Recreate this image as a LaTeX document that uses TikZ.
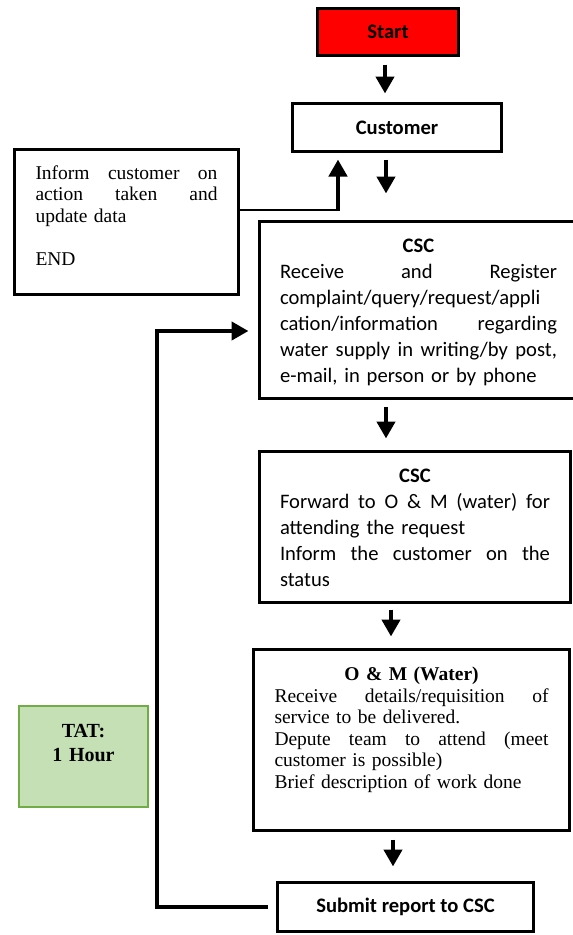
\documentclass[tikz,border=0pt]{standalone}
\usepackage{fontspec}
\setmainfont{Liberation Serif}
\newfontfamily\calfont{Carlito}
\usetikzlibrary{arrows.meta}
\definecolor{startred}{HTML}{FF0000}
\definecolor{tatfill}{HTML}{C5E0B4}
\definecolor{tatline}{HTML}{70AD47}
\newcommand{\ctr}[1]{\hfill#1\hfill\null\\}
\newcommand{\botpad}[1]{\par\vspace*{#1}\hrule height 0pt}
\begin{document}
\begin{tikzpicture}[x=1pt,y=-1pt,
  box/.style={draw, line width=3pt, inner sep=0pt, align=left},
  cal/.style={font=\calfont\fontsize{20.6}{26}\selectfont},
  ser/.style={font=\fontsize{19.5}{21.5}\selectfont},
  arr/.style={line width=4.5pt, -{Triangle[width=18pt,length=17pt]}},
  link/.style={line width=4.5pt}]
\useasboundingbox (0,0) rectangle (573,935);
\fill[white] (0,0) rectangle (573,935);

% boxes
\node[box, cal, fill=startred, minimum width=141pt, minimum height=47pt, align=center]
  (start) at (388,32) {\bfseries Start};
\node[box, cal, minimum width=209pt, minimum height=48pt, align=center]
  (customer) at (397,127.5) {\bfseries Customer};
\node[box, ser, text width=182pt, minimum width=224pt, minimum height=145pt]
  (inform) at (126.5,222) {Inform\hfill customer\hfill on\\ action\hfill taken\hfill and\\ update data\\ \strut\\ END\botpad{13pt}};
\node[box, cal, text width=277pt, minimum width=318pt, minimum height=177pt]
  (csc1) at (418.5,310) {\ctr{\textbf{CSC}}Receive\hfill and\hfill Register\\ complaint/query/request/appli\\ cation/information\hfill regarding\\ water\hfill supply\hfill in\hfill writing/by\hfill post,\\ e-mail, in person or by phone\botpad{-5pt}};
\node[box, cal, text width=270pt, minimum width=311pt, minimum height=151pt]
  (csc2) at (415,527) {\ctr{\textbf{CSC}}Forward\hfill to\hfill O\hfill \&\hfill M\hfill (water)\hfill for\\ attending the request\\ Inform\hfill the\hfill customer\hfill on\hfill the\\ status\botpad{-2pt}};
\node[box, ser, text width=274pt, minimum width=316pt, minimum height=181pt]
  (om) at (411.5,740) {\ctr{\textbf{O \& M (Water)}}Receive\hfill details/requisition\hfill of\\ service to be delivered.\\ Depute\hfill team\hfill to\hfill attend\hfill (meet\\ customer is possible)\\ Brief description of work done\botpad{20pt}};
\node[box, cal, minimum width=256pt, minimum height=49pt, align=center]
  (submit) at (405.5,907) {\bfseries Submit report to CSC};
\node[draw=tatline, fill=tatfill, line width=2pt, inner sep=0pt, text width=110pt,
  minimum width=129pt, minimum height=101pt, align=center, font=\fontsize{20}{24}\selectfont]
  (tat) at (83.5,756.5) {\textbf{TAT:}\\ \textbf{1 Hour}\botpad{27pt}};

% vertical flow arrows
\draw[arr, shorten <=7.5pt, shorten >=8.5pt] ([xshift=-3pt]start.south) -- ([xshift=-3pt]start.south |- customer.north);
\draw[arr, shorten <=6.5pt, shorten >=26.5pt] ([xshift=-11pt]customer.south) -- ([xshift=-11pt]customer.south |- csc1.north);
\draw[arr, shorten <=6.5pt, shorten >=11.5pt] ([xshift=-32.5pt]csc1.south) -- ([xshift=-32.5pt]csc1.south |- csc2.north);
\draw[arr, shorten <=5.5pt, shorten >=11.5pt] ([xshift=-24pt]csc2.south) -- ([xshift=-24pt]csc2.south |- om.north);
\draw[arr, shorten <=7.5pt, shorten >=14.5pt] ([xshift=-18.5pt]om.south) -- ([xshift=-18.5pt]om.south |- submit.north);

% inform -> customer
\coordinate (c1) at (338,210);
\draw[line width=2.5pt] (inform.east |- c1) -- (c1);
\draw[arr, shorten >=6.5pt] ([yshift=-1.2pt]c1) -- (c1 |- customer.south);

% loop back from submit to csc1
\coordinate (lp) at (157,331);
\draw[arr, line join=miter] ([xshift=-8.5pt]submit.west) -| (lp) -- ([xshift=-9.5pt]csc1.west |- lp);
\end{tikzpicture}
\end{document}
